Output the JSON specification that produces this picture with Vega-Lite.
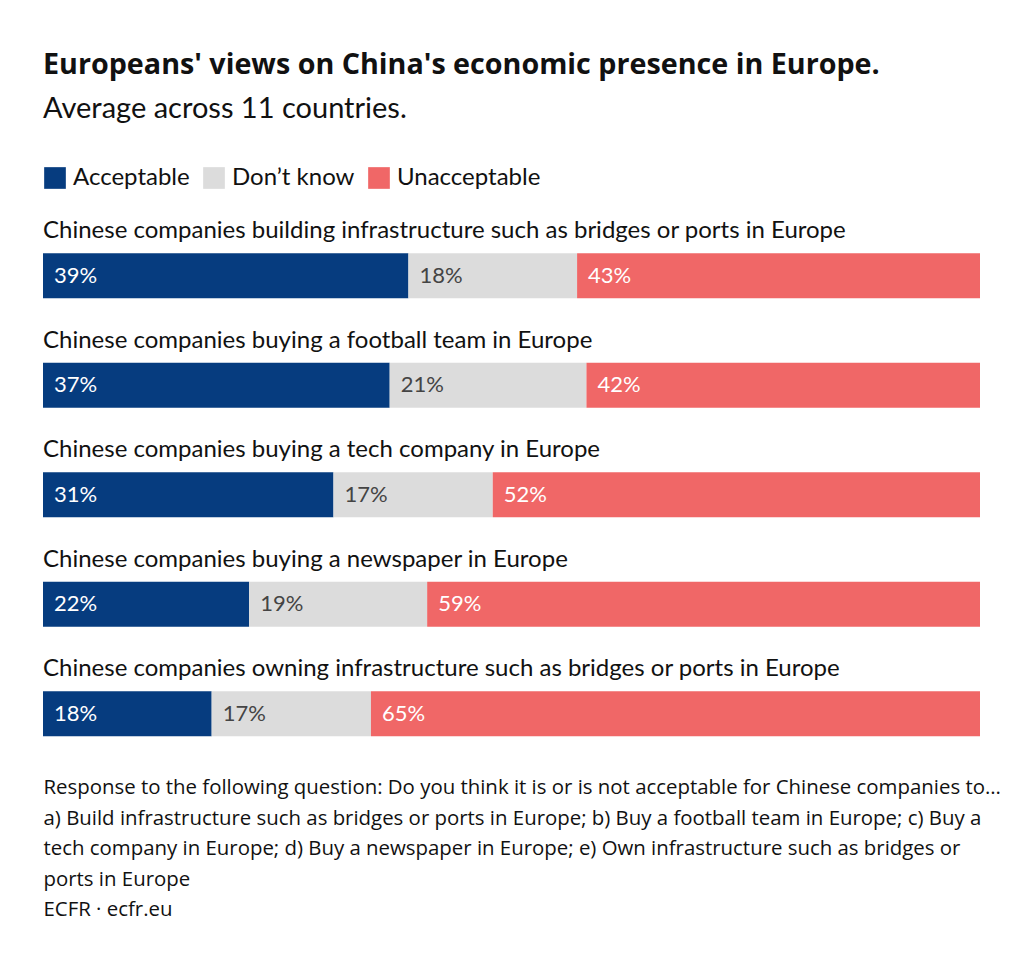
{
  "$schema": "https://vega.github.io/schema/vega-lite/v6.json",
  "width": 937,
  "height": 547.5,
  "padding": {"left": 43, "top": 51, "right": 44, "bottom": 10},
  "background": "white",
  "config": {"view": {"stroke": null}, "font": "Lato"},
  "title": {
    "text": "Europeans' views on China's economic presence in Europe.",
    "subtitle": "Average across 11 countries.",
    "anchor": "start",
    "font": "Open Sans",
    "fontSize": 28.7,
    "fontWeight": "bold",
    "color": "#111111",
    "subtitleFont": "Lato",
    "subtitleFontSize": 29,
    "subtitlePadding": 15,
    "subtitleColor": "#111111",
    "offset": 42
  },
  "data": {
    "values": [
      {"q": "Chinese companies building infrastructure such as bridges or ports in Europe", "rank": 1, "resp": "Acceptable", "order": 1, "value": 39},
      {"q": "Chinese companies building infrastructure such as bridges or ports in Europe", "rank": 1, "resp": "Don’t know", "order": 2, "value": 18},
      {"q": "Chinese companies building infrastructure such as bridges or ports in Europe", "rank": 1, "resp": "Unacceptable", "order": 3, "value": 43},
      {"q": "Chinese companies buying a football team in Europe", "rank": 2, "resp": "Acceptable", "order": 1, "value": 37},
      {"q": "Chinese companies buying a football team in Europe", "rank": 2, "resp": "Don’t know", "order": 2, "value": 21},
      {"q": "Chinese companies buying a football team in Europe", "rank": 2, "resp": "Unacceptable", "order": 3, "value": 42},
      {"q": "Chinese companies buying a tech company in Europe", "rank": 3, "resp": "Acceptable", "order": 1, "value": 31},
      {"q": "Chinese companies buying a tech company in Europe", "rank": 3, "resp": "Don’t know", "order": 2, "value": 17},
      {"q": "Chinese companies buying a tech company in Europe", "rank": 3, "resp": "Unacceptable", "order": 3, "value": 52},
      {"q": "Chinese companies buying a newspaper in Europe", "rank": 4, "resp": "Acceptable", "order": 1, "value": 22},
      {"q": "Chinese companies buying a newspaper in Europe", "rank": 4, "resp": "Don’t know", "order": 2, "value": 19},
      {"q": "Chinese companies buying a newspaper in Europe", "rank": 4, "resp": "Unacceptable", "order": 3, "value": 59},
      {"q": "Chinese companies owning infrastructure such as bridges or ports in Europe", "rank": 5, "resp": "Acceptable", "order": 1, "value": 18},
      {"q": "Chinese companies owning infrastructure such as bridges or ports in Europe", "rank": 5, "resp": "Don’t know", "order": 2, "value": 17},
      {"q": "Chinese companies owning infrastructure such as bridges or ports in Europe", "rank": 5, "resp": "Unacceptable", "order": 3, "value": 65}
    ]
  },
  "transform": [
    {"stack": "value", "groupby": ["q"], "sort": [{"field": "order", "order": "ascending"}], "as": ["x0", "x1"]},
    {"calculate": "datum.value + '%'", "as": "pct"}
  ],
  "encoding": {
    "y": {
      "field": "q",
      "type": "nominal",
      "sort": {"field": "rank", "order": "ascending"},
      "scale": {"paddingInner": 0, "paddingOuter": 0},
      "axis": null
    }
  },
  "layer": [
    {
      "mark": {"type": "bar", "size": 45},
      "encoding": {
        "x": {
          "field": "x0",
          "type": "quantitative",
          "scale": {"domain": [0, 100], "nice": false, "zero": true},
          "axis": {
            "domain": false,
            "ticks": false,
            "labels": false,
            "grid": false,
            "title": [
              "Response to the following question: Do you think it is or is not acceptable for Chinese companies to…",
              "a) Build infrastructure such as bridges or ports in Europe; b) Buy a football team in Europe; c) Buy a",
              "tech company in Europe; d) Buy a newspaper in Europe; e) Own infrastructure such as bridges or",
              "ports in Europe",
              "ECFR · ecfr.eu"
            ],
            "titleAnchor": "start",
            "titleAlign": "left",
            "titleFont": "Open Sans",
            "titleFontSize": 20.4,
            "titleFontWeight": "normal",
            "titleColor": "#111111",
            "titleLineHeight": 30.5,
            "titlePadding": 9
          }
        },
        "x2": {"field": "x1"},
        "color": {
          "field": "resp",
          "type": "nominal",
          "scale": {"domain": ["Acceptable", "Don’t know", "Unacceptable"], "range": ["#063c7f", "#dcdcdc", "#f06767"]},
          "legend": {
            "orient": "top",
            "direction": "horizontal",
            "title": null,
            "symbolType": "square",
            "symbolSize": 470,
            "symbolStrokeWidth": 0,
            "symbolOpacity": 1,
            "labelFont": "Lato",
            "labelFontSize": 24,
            "labelColor": "#111111",
            "labelOffset": 6,
            "columnPadding": 12,
            "offset": 31
          }
        }
      }
    },
    {
      "mark": {"type": "text", "align": "left", "baseline": "middle", "dx": 11, "fontSize": 22, "font": "Lato"},
      "encoding": {
        "x": {"field": "x0", "type": "quantitative"},
        "text": {"field": "pct"},
        "color": {
          "condition": {"test": "datum.order == 2", "value": "#444444"},
          "value": "#ffffff"
        }
      }
    },
    {
      "transform": [{"filter": "datum.order == 1"}],
      "mark": {"type": "text", "align": "left", "baseline": "middle", "yOffset": -44.5, "fontSize": 24, "font": "Lato", "color": "#111111"},
      "encoding": {
        "x": {"field": "x0", "type": "quantitative"},
        "text": {"field": "q"}
      }
    }
  ]
}
